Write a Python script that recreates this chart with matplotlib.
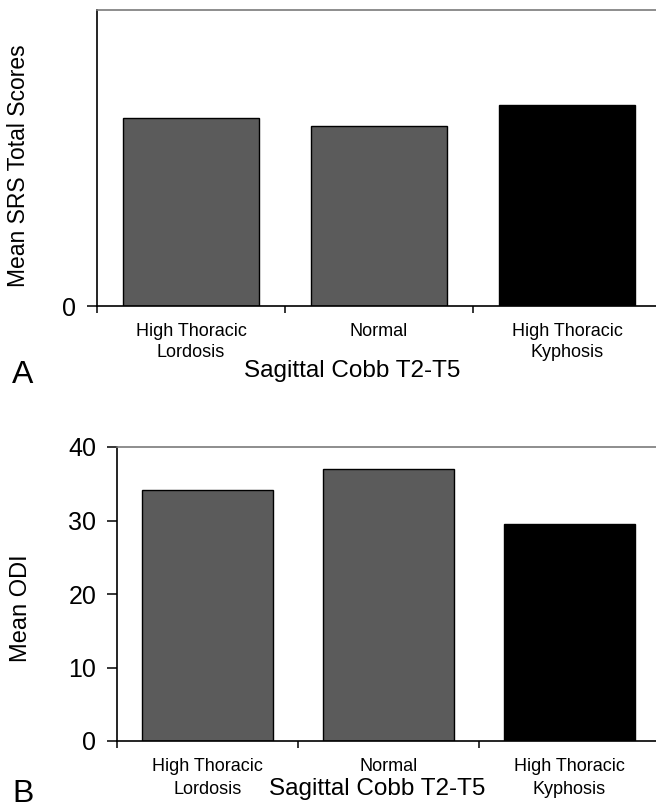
import matplotlib
matplotlib.use("Agg")
import matplotlib.pyplot as plt

plt.rcParams["font.family"] = ["Liberation Sans", "DejaVu Sans"]

# data
categories = ["High Thoracic\nLordosis", "Normal", "High Thoracic\nKyphosis"]
srs_means = [3.18, 3.04, 3.40]      # panel A, axis only labelled at 0
srs_ylim = 5
odi_means = [34.2, 37.0, 29.5]      # panel B
odi_ticks = [0, 10, 20, 30, 40]
bar_colors = ["#5b5b5b", "#5b5b5b", "#000000"]
xlabel = "Sagittal Cobb T2-T5"

W, H = 656, 810
fig = plt.figure(figsize=(W / 100, H / 100), dpi=100)


def px(x0, y0, x1, y1):
    # pixel box (top-left origin) -> figure fraction rect
    return [x0 / W, 1 - y1 / H, (x1 - x0) / W, (y1 - y0) / H]


def panel(ax, vals, linesp):
    x = range(len(vals))
    ax.bar(x, vals, width=0.72, color=bar_colors, edgecolor="black", linewidth=1.0)
    ax.set_xlim(-0.5, len(vals) - 0.5)
    ax.set_xticks(list(x))
    ax.set_xticklabels(categories, fontsize=13, linespacing=linesp)
    ax.set_xticks([i - 0.5 for i in range(len(vals) + 1)], minor=True)
    ax.tick_params(axis="x", which="major", length=0, pad=12)
    ax.tick_params(axis="x", which="minor", length=5, width=1.1, direction="out")
    ax.tick_params(axis="y", length=7, width=1.1, direction="out", labelsize=18, pad=8)
    ax.spines["right"].set_visible(False)
    ax.spines["top"].set_color("#7a7a7a")
    for s in ("left", "bottom"):
        ax.spines[s].set_linewidth(1.2)
    ax.spines["top"].set_linewidth(1.2)


axA = fig.add_axes(px(97, 10, 661, 306))
panel(axA, srs_means, 1.3)
axA.set_ylim(0, srs_ylim)
axA.set_yticks([0])

axB = fig.add_axes(px(117, 447, 660, 741))
panel(axB, odi_means, 1.5)
axB.set_ylim(0, 40)
axB.set_yticks(odi_ticks)

fig.text(19 / W, 1 - 166 / H, "Mean SRS Total Scores", rotation=90, fontsize=16.5,
         ha="center", va="center")
fig.text(21 / W, 1 - 608 / H, "Mean ODI", rotation=90, fontsize=17,
         ha="center", va="center")
fig.text(352 / W, 1 - 371 / H, xlabel, fontsize=17.5, ha="center", va="center")
fig.text(377 / W, 1 - 789 / H, xlabel, fontsize=17.5, ha="center", va="center")
fig.text(12 / W, 1 - 383 / H, "A", fontsize=23, ha="left", va="baseline")
fig.text(12 / W, 1 / H, "B", fontsize=23, ha="left", va="bottom")

fig.savefig("out.png", dpi=100)
